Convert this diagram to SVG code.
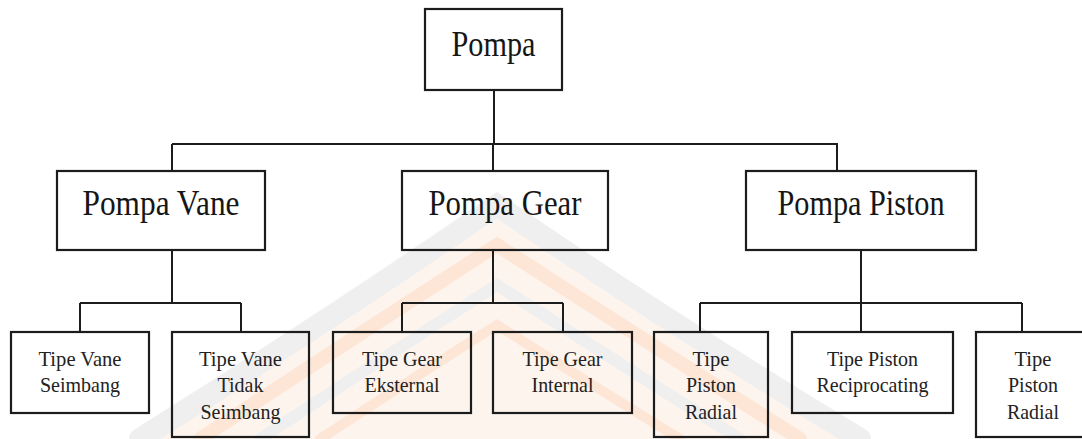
<svg xmlns="http://www.w3.org/2000/svg" width="1082" height="439" viewBox="0 0 1082 439">
<style>
.box{fill:none;stroke:#1c1c1c;stroke-width:2.2}
.ln{fill:none;stroke:#1c1c1c;stroke-width:2}
.t1{font-family:"Liberation Serif","Times New Roman",serif;font-size:35px;fill:#161616;text-anchor:middle}
.t2{font-family:"Liberation Serif","Times New Roman",serif;font-size:22px;fill:#222;text-anchor:middle}
.wg{fill:none;stroke:#efefef;stroke-linecap:round}
.wo{fill:none;stroke:#fde6d6;stroke-linecap:round}
</style>
<rect width="1082" height="439" fill="#ffffff"/>
<g id="watermark">
<path d="M150 439 Q330 330 497 210 Q664 330 850 439 Z" fill="#fdf4ee"/>
<path class="wg" stroke-width="22" d="M140 439 Q330 320 497 205 Q664 320 860 439"/>
<path class="wo" stroke-width="14" d="M200 439 Q350 340 497 245 Q644 340 800 439"/>
<path class="wg" stroke-width="12" d="M260 439 Q380 360 497 285 Q614 360 740 439"/>
<path class="wo" stroke-width="10" d="M320 439 Q410 380 497 325 Q584 380 680 439"/>
</g>
<g id="connectors">
<path class="ln" d="M494 90V144M172 144H838M172 144V171M493 144V171M837 144V171"/>
<path class="ln" d="M172 250V303M80 303H241M80 303V332M241 303V332"/>
<path class="ln" d="M493 250V303M402 303H563M402 303V332M563 303V332"/>
<path class="ln" d="M861 250V303M700 303H1022M700 303V332M861 303V332M1022 303V332"/>
</g>
<g id="pompa">
<rect class="box" x="425" y="9" width="137" height="81" fill="#fff"/>
<text class="t1" x="493.5" y="56" textLength="84" lengthAdjust="spacingAndGlyphs">Pompa</text>
</g>
<g id="pompa-vane">
<rect class="box" x="57" y="171" width="208" height="79"/>
<text class="t1" x="161" y="215" textLength="157" lengthAdjust="spacingAndGlyphs">Pompa Vane</text>
</g>
<g id="pompa-gear">
<rect class="box" x="402" y="171" width="206" height="79"/>
<text class="t1" x="505" y="215" textLength="153" lengthAdjust="spacingAndGlyphs">Pompa Gear</text>
</g>
<g id="pompa-piston">
<rect class="box" x="746" y="171" width="230" height="79"/>
<text class="t1" x="861" y="215" textLength="167" lengthAdjust="spacingAndGlyphs">Pompa Piston</text>
</g>
<g id="vane-seimbang">
<rect class="box" x="11" y="332" width="138" height="81"/>
<text class="t2" x="80" y="366" textLength="83" lengthAdjust="spacingAndGlyphs">Tipe Vane</text>
<text class="t2" x="80" y="392" textLength="80" lengthAdjust="spacingAndGlyphs">Seimbang</text>
</g>
<g id="vane-tidak-seimbang">
<rect class="box" x="172" y="332" width="137" height="105"/>
<text class="t2" x="240.5" y="366" textLength="83" lengthAdjust="spacingAndGlyphs">Tipe Vane</text>
<text class="t2" x="240.5" y="392" textLength="46" lengthAdjust="spacingAndGlyphs">Tidak</text>
<text class="t2" x="240.5" y="419" textLength="80" lengthAdjust="spacingAndGlyphs">Seimbang</text>
</g>
<g id="gear-eksternal">
<rect class="box" x="333" y="332" width="138" height="81"/>
<text class="t2" x="402" y="366" textLength="80" lengthAdjust="spacingAndGlyphs">Tipe Gear</text>
<text class="t2" x="402" y="392" textLength="75" lengthAdjust="spacingAndGlyphs">Eksternal</text>
</g>
<g id="gear-internal">
<rect class="box" x="493" y="332" width="139" height="81"/>
<text class="t2" x="562.5" y="366" textLength="80" lengthAdjust="spacingAndGlyphs">Tipe Gear</text>
<text class="t2" x="562.5" y="392" textLength="62" lengthAdjust="spacingAndGlyphs">Internal</text>
</g>
<g id="piston-radial-1">
<rect class="box" x="654" y="332" width="114" height="105"/>
<text class="t2" x="711" y="366" textLength="37" lengthAdjust="spacingAndGlyphs">Tipe</text>
<text class="t2" x="711" y="392" textLength="50" lengthAdjust="spacingAndGlyphs">Piston</text>
<text class="t2" x="711" y="419" textLength="52" lengthAdjust="spacingAndGlyphs">Radial</text>
</g>
<g id="piston-reciprocating">
<rect class="box" x="792" y="332" width="161" height="81"/>
<text class="t2" x="872.5" y="366" textLength="91" lengthAdjust="spacingAndGlyphs">Tipe Piston</text>
<text class="t2" x="872.5" y="392" textLength="112" lengthAdjust="spacingAndGlyphs">Reciprocating</text>
</g>
<g id="piston-radial-2">
<rect class="box" x="976" y="332" width="116" height="105"/>
<text class="t2" x="1033" y="366" textLength="37" lengthAdjust="spacingAndGlyphs">Tipe</text>
<text class="t2" x="1033" y="392" textLength="50" lengthAdjust="spacingAndGlyphs">Piston</text>
<text class="t2" x="1033" y="419" textLength="52" lengthAdjust="spacingAndGlyphs">Radial</text>
</g>
</svg>
